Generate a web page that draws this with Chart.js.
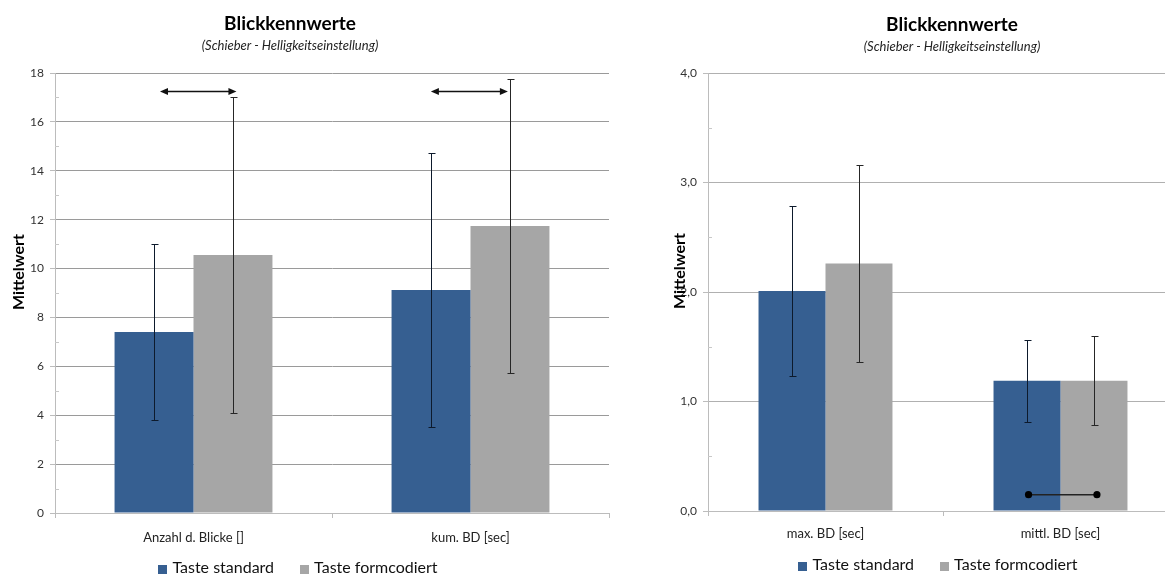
<!DOCTYPE html>
<html>
<head>
<meta charset="utf-8">
<script src="https://cdn.jsdelivr.net/npm/chart.js@4/dist/chart.umd.min.js"></script>
<style>
  html, body { margin: 0; padding: 0; background: #fff; overflow: hidden; width: 1165px; height: 574px; position: relative; }
  .panel { position: absolute; top: 0; height: 574px; }
  #panelCount { left: 0; width: 620px; }
  #panelDuration { left: 625px; width: 560px; }
</style>
</head>
<body>
<div class="panel" id="panelCount"><canvas id="chartCount"></canvas></div>
<div class="panel" id="panelDuration"><canvas id="chartDuration"></canvas></div>
<script>
// ---- data ----
const seriesNames = ['Taste standard', 'Taste formcodiert'];

const countCategories = ['Anzahl d. Blicke []', 'kum. BD [sec]'];
const countStandard = [7.4, 9.12];
const countFormcodiert = [10.55, 11.74];
const countErrStandard = [3.6, 5.62];
const countErrFormcodiert = [6.45, 6.0];
const countTicks = [0, 2, 4, 6, 8, 10, 12, 14, 16, 18];
const countMinorTicks = [1, 3, 5, 7, 9, 11, 13, 15, 17];

const durationCategories = ['max. BD [sec]', 'mittl. BD [sec]'];
const durationStandard = [2.01, 1.19];
const durationFormcodiert = [2.26, 1.19];
const durationErrStandard = [0.775, 0.374];
const durationErrFormcodiert = [0.90, 0.405];
const durationTicks = [0, 1, 2, 3, 4];
const durationMinorTicks = [0.5, 1.5, 2.5, 3.5];

// ---- style ----
const FONT = 'Lato, "Open Sans", sans-serif';
const BLUE = '#365f91';
const GREY = '#a6a6a6';

// Error bars, annotations, titles, axis title and legend
const decor = {
  id: 'decor',
  afterDatasetsDraw(chart, args, o) {
    const ctx = chart.ctx, xs = chart.scales.x, ys = chart.scales.y;
    ctx.save();
    // minor tick marks inside the value axis
    ctx.strokeStyle = '#c8c8c8';
    ctx.lineWidth = 1;
    (o.minor || []).forEach(v => {
      const py = Math.round(ys.getPixelForValue(v)) + 0.5;
      ctx.beginPath();
      ctx.moveTo(chart.chartArea.left, py);
      ctx.lineTo(chart.chartArea.left + 4, py);
      ctx.stroke();
    });
    // error bars (mean ± deviation)
    chart.data.datasets.forEach((ds, di) => {
      const meta = chart.getDatasetMeta(di);
      meta.data.forEach((bar, i) => {
        const m = ds.data[i], e = ds.errors[i];
        const yt = Math.round(ys.getPixelForValue(m + e)) + 0.5;
        const yb = Math.round(ys.getPixelForValue(m - e)) + 0.5;
        const xc = Math.round(bar.x) + 0.5;
        ctx.strokeStyle = di === 0 ? '#0d1a2c' : '#262626';
        ctx.lineWidth = 1;
        ctx.beginPath();
        ctx.moveTo(xc, yt); ctx.lineTo(xc, yb);
        ctx.moveTo(xc - 3, yt); ctx.lineTo(xc + 4, yt);
        ctx.moveTo(xc - 3, yb); ctx.lineTo(xc + 4, yb);
        ctx.stroke();
      });
    });
    const catW = xs.getPixelForValue(1) - xs.getPixelForValue(0);
    // double-headed arrows
    (o.arrows || []).forEach(a => {
      const c = xs.getPixelForValue(a.index);
      const x1 = c + a.from * catW, x2 = c + a.to * catW;
      const py = Math.round(ys.getPixelForValue(a.value)) + 0.5;
      ctx.strokeStyle = '#111'; ctx.fillStyle = '#111'; ctx.lineWidth = 1.3;
      ctx.beginPath(); ctx.moveTo(x1 + 4, py); ctx.lineTo(x2 - 4, py); ctx.stroke();
      ctx.beginPath(); ctx.moveTo(x1, py); ctx.lineTo(x1 + 8, py - 3.5); ctx.lineTo(x1 + 8, py + 3.5); ctx.closePath(); ctx.fill();
      ctx.beginPath(); ctx.moveTo(x2, py); ctx.lineTo(x2 - 8, py - 3.5); ctx.lineTo(x2 - 8, py + 3.5); ctx.closePath(); ctx.fill();
    });
    // connector with round ends
    (o.links || []).forEach(a => {
      const c = xs.getPixelForValue(a.index);
      const x1 = c + a.from * catW, x2 = c + a.to * catW;
      const py = ys.getPixelForValue(a.value);
      ctx.strokeStyle = '#222'; ctx.fillStyle = '#000'; ctx.lineWidth = 1.5;
      ctx.beginPath(); ctx.moveTo(x1, py); ctx.lineTo(x2, py); ctx.stroke();
      [x1, x2].forEach(px => { ctx.beginPath(); ctx.arc(px, py, 3.6, 0, Math.PI * 2); ctx.fill(); });
    });
    ctx.restore();
  },
  afterDraw(chart, args, o) {
    const ctx = chart.ctx;
    ctx.save();
    ctx.textAlign = 'center';
    ctx.textBaseline = 'middle';
    ctx.fillStyle = '#000';
    ctx.font = 'bold 19px ' + FONT;
    ctx.fillText(o.title, o.titleX, o.titleY);
    ctx.fillStyle = '#222';
    ctx.font = 'italic 13px ' + FONT;
    ctx.fillText(o.subtitle, o.titleX, o.titleY + 22);
    // value axis title
    ctx.save();
    ctx.translate(o.axisTitleX, o.axisTitleY);
    ctx.rotate(-Math.PI / 2);
    ctx.fillStyle = '#000';
    ctx.font = 'bold 16px ' + FONT;
    ctx.fillText(o.axisTitle, 0, 0);
    ctx.restore();
    // legend
    ctx.font = '16px ' + FONT;
    ctx.textAlign = 'left';
    const items = chart.data.datasets.map(d => ({ label: d.label, color: d.backgroundColor, w: ctx.measureText(d.label).width }));
    const box = 9, gap = 5, spacing = 26;
    const total = items.reduce((s, it) => s + box + gap + it.w, 0) + spacing * (items.length - 1);
    let x = o.legendX - total / 2;
    items.forEach(it => {
      ctx.fillStyle = it.color;
      ctx.fillRect(Math.round(x), Math.round(o.legendY - box / 2 + 1), box, box);
      ctx.fillStyle = '#111';
      ctx.fillText(it.label, x + box + gap, o.legendY);
      x += box + gap + it.w + spacing;
    });
    ctx.restore();
  }
};

function build(canvasId, cfg) {
  return new Chart(document.getElementById(canvasId), {
    type: 'bar',
    data: {
      labels: cfg.categories,
      datasets: [
        { label: seriesNames[0], data: cfg.standard, errors: cfg.errStandard, backgroundColor: BLUE,
          categoryPercentage: 0.57, barPercentage: 1.0 },
        { label: seriesNames[1], data: cfg.formcodiert, errors: cfg.errFormcodiert, backgroundColor: GREY,
          categoryPercentage: 0.57, barPercentage: 1.0 }
      ]
    },
    options: {
      responsive: true,
      maintainAspectRatio: false,
      animation: false,
      layout: { padding: { top: cfg.top, right: cfg.right, left: 0, bottom: 0 } },
      plugins: {
        legend: { display: false },
        title: { display: false },
        tooltip: { enabled: false },
        decor: cfg.decor
      },
      scales: {
        x: {
          offset: true,
          afterFit: s => { s.height = cfg.xHeight; },
          grid: { offset: true, drawOnChartArea: false, tickLength: 5, color: '#bcbcbc', tickColor: '#bcbcbc' },
          border: { color: '#bcbcbc' },
          ticks: { color: '#222', padding: cfg.xPad, font: { family: FONT, size: 13 } }
        },
        y: {
          min: cfg.ticks[0],
          max: cfg.ticks[cfg.ticks.length - 1],
          afterFit: s => { s.width = cfg.yWidth; },
          afterBuildTicks: s => { s.ticks = cfg.ticks.map(v => ({ value: v })); },
          grid: { color: cfg.gridColor, tickLength: 5, tickColor: '#bcbcbc' },
          border: { color: '#bcbcbc' },
          ticks: {
            color: '#333', padding: 6, font: { family: FONT, size: 12 },
            callback: cfg.fmt
          }
        }
      }
    },
    plugins: [decor]
  });
}

build('chartCount', {
  categories: countCategories,
  standard: countStandard, formcodiert: countFormcodiert,
  errStandard: countErrStandard, errFormcodiert: countErrFormcodiert,
  ticks: countTicks,
  top: 73, right: 11, yWidth: 55, xHeight: 61, xPad: 12,
  gridColor: '#9a9a9a',
  fmt: v => String(v),
  decor: {
    title: 'Blickkennwerte', subtitle: '(Schieber - Helligkeitseinstellung)',
    titleX: 290, titleY: 24,
    axisTitle: 'Mittelwert', axisTitleX: 19, axisTitleY: 272,
    legendX: 298, legendY: 568,
    minor: countMinorTicks,
    arrows: [
      { index: 0, value: 17.27, from: -0.121, to: 0.155 },
      { index: 1, value: 17.27, from: -0.143, to: 0.135 }
    ]
  }
});

build('chartDuration', {
  categories: durationCategories,
  standard: durationStandard, formcodiert: durationFormcodiert,
  errStandard: durationErrStandard, errFormcodiert: durationErrFormcodiert,
  ticks: durationTicks,
  top: 73, right: 7, yWidth: 83, xHeight: 63, xPad: 10,
  gridColor: '#b0b0b0',
  fmt: v => v.toFixed(1).replace('.', ','),
  decor: {
    title: 'Blickkennwerte', subtitle: '(Schieber - Helligkeitseinstellung)',
    titleX: 327, titleY: 25,
    axisTitle: 'Mittelwert', axisTitleX: 55, axisTitleY: 271,
    legendX: 313, legendY: 565,
    minor: durationMinorTicks,
    links: [
      { index: 1, value: 0.149, from: -0.136, to: 0.155 }
    ]
  }
});
</script>
</body>
</html>
